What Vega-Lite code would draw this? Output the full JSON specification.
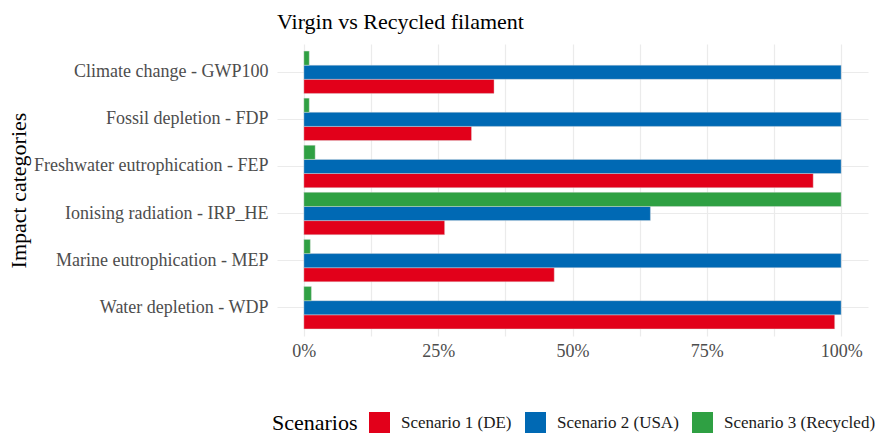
{
  "$schema": "https://vega.github.io/schema/vega-lite/v6.json",
  "autosize": {"type": "none"},
  "padding": {"left": 277, "top": 44, "right": 7, "bottom": 98},
  "width": 591,
  "height": 292,
  "background": "white",
  "title": {
    "text": "Virgin vs Recycled filament",
    "anchor": "start",
    "frame": "group",
    "font": "Liberation Serif",
    "fontSize": 22,
    "fontWeight": "normal",
    "color": "#000000",
    "offset": 10
  },
  "data": {
    "values": [
      {"category": "Climate change - GWP100", "scenario": "Scenario 1 (DE)", "value": 0.354},
      {"category": "Climate change - GWP100", "scenario": "Scenario 2 (USA)", "value": 1.0},
      {"category": "Climate change - GWP100", "scenario": "Scenario 3 (Recycled)", "value": 0.010},
      {"category": "Fossil depletion - FDP", "scenario": "Scenario 1 (DE)", "value": 0.312},
      {"category": "Fossil depletion - FDP", "scenario": "Scenario 2 (USA)", "value": 1.0},
      {"category": "Fossil depletion - FDP", "scenario": "Scenario 3 (Recycled)", "value": 0.010},
      {"category": "Freshwater eutrophication - FEP", "scenario": "Scenario 1 (DE)", "value": 0.948},
      {"category": "Freshwater eutrophication - FEP", "scenario": "Scenario 2 (USA)", "value": 1.0},
      {"category": "Freshwater eutrophication - FEP", "scenario": "Scenario 3 (Recycled)", "value": 0.021},
      {"category": "Ionising radiation - IRP_HE", "scenario": "Scenario 1 (DE)", "value": 0.262},
      {"category": "Ionising radiation - IRP_HE", "scenario": "Scenario 2 (USA)", "value": 0.645},
      {"category": "Ionising radiation - IRP_HE", "scenario": "Scenario 3 (Recycled)", "value": 1.0},
      {"category": "Marine eutrophication - MEP", "scenario": "Scenario 1 (DE)", "value": 0.466},
      {"category": "Marine eutrophication - MEP", "scenario": "Scenario 2 (USA)", "value": 1.0},
      {"category": "Marine eutrophication - MEP", "scenario": "Scenario 3 (Recycled)", "value": 0.012},
      {"category": "Water depletion - WDP", "scenario": "Scenario 1 (DE)", "value": 0.988},
      {"category": "Water depletion - WDP", "scenario": "Scenario 2 (USA)", "value": 1.0},
      {"category": "Water depletion - WDP", "scenario": "Scenario 3 (Recycled)", "value": 0.014}
    ]
  },
  "mark": {"type": "bar", "stroke": "#dddddd", "strokeWidth": 0.4},
  "encoding": {
    "y": {
      "field": "category",
      "type": "nominal",
      "sort": null,
      "scale": {"paddingInner": 0.1, "paddingOuter": 0.15},
      "axis": {
        "title": "Impact categories",
        "titleFont": "Liberation Serif",
        "titleFontSize": 22,
        "titleFontWeight": "normal",
        "titleColor": "#000000",
        "titleX": -259,
        "titleBaseline": "middle",
        "titleAngle": -90,
        "labelFont": "Liberation Serif",
        "labelFontSize": 18,
        "labelColor": "#4D4D4D",
        "labelPadding": 9,
        "labelLimit": 0,
        "ticks": false,
        "domain": false,
        "grid": true,
        "gridColor": "#EBEBEB",
        "gridWidth": 1.2,
        "bandPosition": 0.5
      }
    },
    "yOffset": {
      "field": "scenario",
      "type": "nominal",
      "sort": ["Scenario 3 (Recycled)", "Scenario 2 (USA)", "Scenario 1 (DE)"],
      "scale": {"paddingInner": 0, "paddingOuter": 0}
    },
    "x": {
      "field": "value",
      "type": "quantitative",
      "scale": {"domain": [-0.05, 1.05], "nice": false, "zero": false},
      "axis": {
        "title": null,
        "values": [0, 0.125, 0.25, 0.375, 0.5, 0.625, 0.75, 0.875, 1],
        "labelExpr": "(datum.value * 4) % 1 == 0 ? format(datum.value, '.0%') : ''",
        "labelFont": "Liberation Serif",
        "labelFontSize": 18,
        "labelColor": "#4D4D4D",
        "labelPadding": 6,
        "ticks": false,
        "domain": false,
        "grid": true,
        "gridColor": "#EBEBEB",
        "gridWidth": 1.2
      }
    },
    "color": {
      "field": "scenario",
      "type": "nominal",
      "scale": {
        "domain": ["Scenario 1 (DE)", "Scenario 2 (USA)", "Scenario 3 (Recycled)"],
        "range": ["#E2001A", "#0069B4", "#2FA043"]
      },
      "legend": {
        "title": "Scenarios",
        "orient": "none",
        "legendX": -5,
        "legendY": 368,
        "direction": "horizontal",
        "titleOrient": "left",
        "titleFont": "Liberation Serif",
        "titleFontSize": 22,
        "titleFontWeight": "normal",
        "titleColor": "#000000",
        "titlePadding": 11,
        "labelFont": "Liberation Serif",
        "labelFontSize": 17,
        "labelColor": "#1A1A1A",
        "labelOffset": 11,
        "labelLimit": 0,
        "columnPadding": 13,
        "symbolType": "square",
        "symbolSize": 441,
        "symbolStrokeWidth": 0,
        "symbolOpacity": 1
      }
    }
  },
  "config": {
    "view": {"stroke": null}
  }
}
